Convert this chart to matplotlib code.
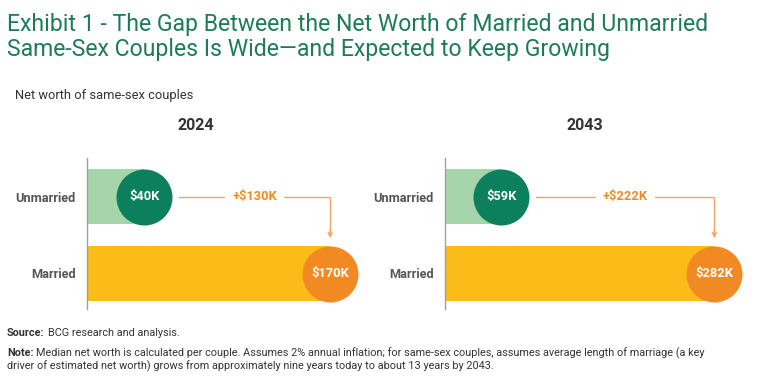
import matplotlib
matplotlib.use("Agg")
import matplotlib.pyplot as plt

# ---- data ----
years = ["2024", "2043"]
categories = ["Married", "Unmarried"]
unmarried = [40, 59]
married = [170, 282]
unmarried_labels = ["$40K", "$59K"]
married_labels = ["$170K", "$282K"]
gap_labels = ["+$130K", "+$222K"]

# ---- style ----
W, H = 768, 382
TITLE_GREEN = "#1D7C58"
LIGHT_GREEN = "#A6D5AB"
DARK_GREEN = "#0C7F5C"
YELLOW = "#FBBC19"
ORANGE = "#F28A24"
ARROW = "#F4A463"
GRAY_LABEL = "#555555"
TEXT = "#333333"
plt.rcParams["font.family"] = ["Roboto", "DejaVu Sans"]

fig = plt.figure(figsize=(W / 100, H / 100), dpi=100)
fig.patch.set_facecolor("white")


def fx(px):
    return px / W


def fy(py):
    return 1 - py / H


# title
fig.text(fx(7), fy(31), "Exhibit 1 - The Gap Between the Net Worth of Married and Unmarried",
         color=TITLE_GREEN, fontsize=16.6, va="baseline", ha="left")
fig.text(fx(7), fy(56), "Same-Sex Couples Is Wide\u2014and Expected to Keep Growing",
         color=TITLE_GREEN, fontsize=16.6, va="baseline", ha="left")
fig.text(fx(15), fy(99), "Net worth of same-sex couples", color=TEXT,
         fontsize=9.3, va="baseline", ha="left")

# panel geometry (pixels)
panels = [
    dict(x0=87, scale=1.43, title_x=196, xmax_px=372),
    dict(x0=445, scale=0.955, title_x=585, xmax_px=768),
]
top_px, bot_px = 158, 309
y_un_px, y_ma_px = 196.5, 273.5
unit = y_ma_px - y_un_px
ymin = -(bot_px - y_ma_px) / unit
ymax = 1 + (y_un_px - top_px) / unit
bar_h = 55 / unit
radius_px = 28
msize = (2 * radius_px * 0.72) ** 2

for i, p in enumerate(panels):
    ax = fig.add_axes([fx(p["x0"]), fy(bot_px), fx(p["xmax_px"] - p["x0"]),
                       (bot_px - top_px) / H])
    xmax = (p["xmax_px"] - p["x0"]) / p["scale"]
    ax.set_xlim(0, xmax)
    ax.set_ylim(ymin, ymax)
    for s in ["top", "right", "bottom"]:
        ax.spines[s].set_visible(False)
    ax.spines["left"].set_color("#A0A0A0")
    ax.spines["left"].set_linewidth(1.0)
    ax.set_xticks([])
    ax.set_yticks([0, 1])
    ax.set_yticklabels(categories, fontsize=9.2, fontweight="bold", color=GRAY_LABEL)
    ax.tick_params(axis="y", length=0, pad=8)
    ax.patch.set_alpha(0)

    ax.barh(1, unmarried[i], height=bar_h, color=LIGHT_GREEN, zorder=1)
    ax.barh(0, married[i], height=bar_h, color=YELLOW, zorder=1)
    ax.scatter([unmarried[i]], [1], s=msize, color=DARK_GREEN, zorder=3,
               linewidths=0, clip_on=False)
    ax.scatter([married[i]], [0], s=msize, color=ORANGE, zorder=3,
               linewidths=0, clip_on=False)
    ax.text(unmarried[i], 1, unmarried_labels[i], color="white", fontsize=9.3,
            fontweight="bold", ha="center", va="center", zorder=4)
    ax.text(married[i], 0, married_labels[i], color="white", fontsize=9.3,
            fontweight="bold", ha="center", va="center", zorder=4)

    # connector arrow
    x_start = unmarried[i] + 35 / p["scale"]
    x_end = married[i]
    y_end = 1 - (238 - y_un_px) / unit
    ax.plot([x_start, x_end, x_end], [1, 1, y_end + 0.02], color=ARROW, lw=1.0,
            zorder=2, solid_joinstyle="miter")
    ax.annotate("", xy=(x_end, y_end), xytext=(x_end, y_end + 0.1),
                arrowprops=dict(arrowstyle="->", color=ARROW, lw=1.0,
                                shrinkA=0, shrinkB=0, mutation_scale=7), zorder=2)
    ax.text((x_start + x_end) / 2, 1, gap_labels[i], color=ORANGE, fontsize=9.3,
            fontweight="bold", ha="center", va="center", zorder=3,
            bbox=dict(facecolor="white", edgecolor="none", pad=5))

    fig.text(fx(p["title_x"]), fy(125), years[i], fontsize=11.5, fontweight="bold",
             color=TEXT, ha="center", va="center")

# footnotes
fig.canvas.draw()
renderer = fig.canvas.get_renderer()
FN = 7.85


def label_pair(x_px, y_px, bold, rest):
    t = fig.text(fx(x_px), fy(y_px), bold, fontsize=FN, fontweight="bold",
                 color=TEXT, ha="left", va="baseline")
    bb = t.get_window_extent(renderer=renderer)
    fig.text((bb.x1 + 3) / W, fy(y_px), rest, fontsize=FN, color=TEXT,
             ha="left", va="baseline")


label_pair(7, 336, "Source:", "BCG research and analysis.")
label_pair(7, 356, "Note:", "Median net worth is calculated per couple. Assumes 2% annual inflation; "
           "for same-sex couples, assumes average length of marriage (a key")
fig.text(fx(7), fy(369), "driver of estimated net worth) grows from approximately nine years today "
         "to about 13 years by 2043.", fontsize=FN, color=TEXT, ha="left", va="baseline")

fig.savefig("out.png", dpi=100, facecolor="white")
